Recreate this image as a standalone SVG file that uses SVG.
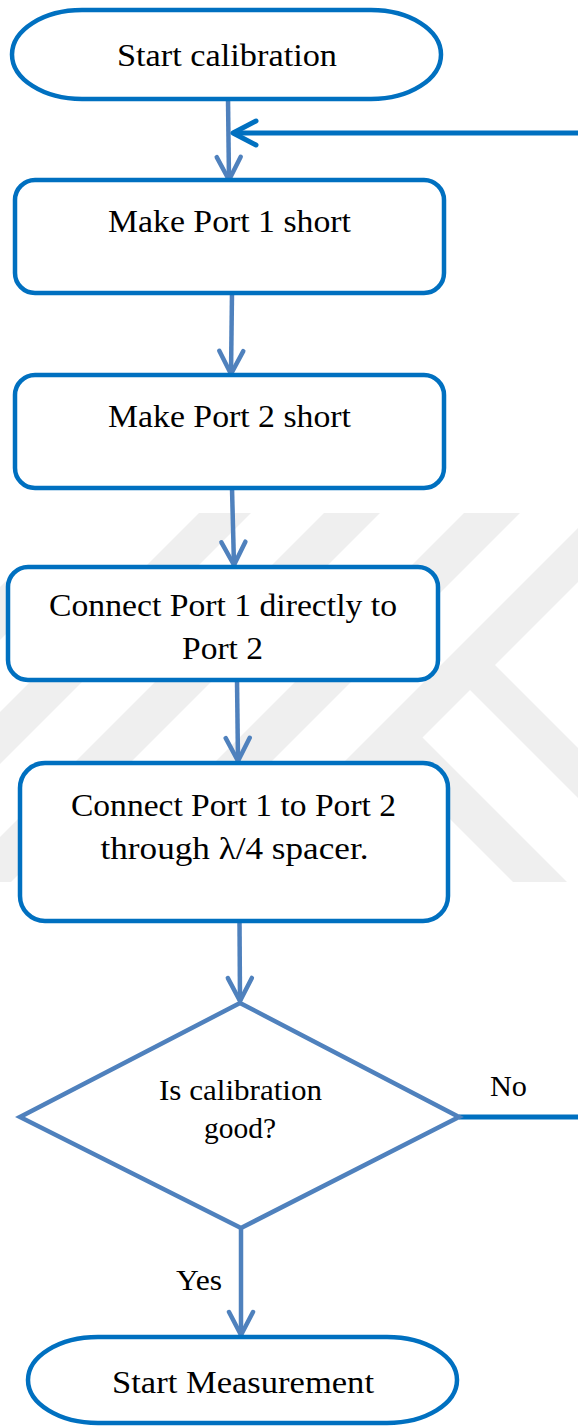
<svg xmlns="http://www.w3.org/2000/svg" width="578" height="1426" viewBox="0 0 578 1426">
  <style>
    .box { fill: #ffffff; stroke: #0070C0; stroke-width: 4.5; }
    .dec { fill: #ffffff; stroke: #4F81BD; stroke-width: 4.5; stroke-linejoin: miter; }
    .lbl { font-family: "Liberation Serif", "Times New Roman", serif; font-size: 32px; fill: #000000; text-anchor: middle; }
    .sm { font-size: 30px; }
    .flow { fill: none; stroke: #4F81BD; stroke-width: 4.5; marker-end: url(#headFlow); }
    .loop { fill: none; stroke: #0070C0; stroke-width: 5; }
    .mark { fill: #EFEFEF; }
  </style>
  <defs>
    <marker id="headFlow" markerUnits="userSpaceOnUse" viewBox="-30 -16 36 32" refX="0" refY="0" markerWidth="36" markerHeight="32" orient="auto" overflow="visible">
      <path d="M-23,-12 L0,0 L-23,12" fill="none" stroke="#4F81BD" stroke-width="4.5" stroke-linecap="round" stroke-linejoin="round"/>
    </marker>
    <marker id="headLoop" markerUnits="userSpaceOnUse" viewBox="-30 -16 36 32" refX="0" refY="0" markerWidth="36" markerHeight="32" orient="auto" overflow="visible">
      <path d="M-23,-12 L0,0 L-23,12" fill="none" stroke="#0070C0" stroke-width="5" stroke-linecap="round" stroke-linejoin="round"/>
    </marker>
  </defs>

  <rect width="578" height="1426" fill="#ffffff"/>

  <!-- faint background emblem: diagonal bars -->
  <g id="emblem">
    <polygon class="mark" points="12,575 65,575 -242,882 -295,882"/>
    <polygon class="mark" points="199,513 251,513 -118,882 -170,882"/>
    <polygon class="mark" points="324,513 380,513 11,882 -45,882"/>
    <polygon class="mark" points="464,513 520,513 151,882 95,882"/>
    <polygon class="mark" points="593,513 647,513 278,882 224,882"/>
    <polygon class="mark" points="485,655 600,770 600,820 460,680"/>
    <polygon class="mark" points="412,727 567,882 513,882 385,754"/>
  </g>

  <!-- connectors -->
  <g id="connectors">
    <path class="flow" d="M228,99 L229,180"/>
    <path class="flow" d="M232,293 L231,374"/>
    <path class="flow" d="M232,488 L234,565"/>
    <path class="flow" d="M237,680 L238,761"/>
    <path class="flow" d="M239.5,921 L240,1001"/>
    <path class="flow" d="M241,1228 L241,1335"/>
    <path class="loop" d="M459,1117 L578,1117"/>
    <path class="loop" d="M578,133 L233,133" marker-end="url(#headLoop)"/>
    <text class="lbl sm" x="508.5" y="1096" textLength="37" lengthAdjust="spacingAndGlyphs">No</text>
    <text class="lbl sm" x="199" y="1290" textLength="46" lengthAdjust="spacingAndGlyphs">Yes</text>
  </g>

  <g id="start-calibration">
    <rect class="box" x="12" y="10" width="429" height="89" rx="70" ry="44.5"/>
    <text class="lbl" x="227" y="66" textLength="220" lengthAdjust="spacingAndGlyphs">Start calibration</text>
  </g>

  <g id="port1-short">
    <rect class="box" x="15" y="180" width="429" height="113" rx="20"/>
    <text class="lbl" x="229.5" y="232" textLength="243" lengthAdjust="spacingAndGlyphs">Make Port 1 short</text>
  </g>

  <g id="port2-short">
    <rect class="box" x="15" y="375" width="429" height="113" rx="20"/>
    <text class="lbl" x="229.5" y="427" textLength="243" lengthAdjust="spacingAndGlyphs">Make Port 2 short</text>
  </g>

  <g id="direct-connect">
    <rect class="box" x="8" y="567" width="430" height="113" rx="20"/>
    <text class="lbl" x="223" y="616" textLength="348" lengthAdjust="spacingAndGlyphs">Connect Port 1 directly to</text>
    <text class="lbl" x="222.5" y="659" textLength="81" lengthAdjust="spacingAndGlyphs">Port 2</text>
  </g>

  <g id="spacer-connect">
    <rect class="box" x="20" y="763" width="428" height="158" rx="25"/>
    <text class="lbl" x="233.5" y="816" textLength="325" lengthAdjust="spacingAndGlyphs">Connect Port 1 to Port 2</text>
    <text class="lbl" x="234.5" y="859" textLength="268" lengthAdjust="spacingAndGlyphs">through λ/4 spacer.</text>
  </g>

  <g id="check-calibration">
    <polygon class="dec" points="240,1003 459,1117 241,1228 20,1117"/>
    <text class="lbl sm" x="240.5" y="1100" textLength="163" lengthAdjust="spacingAndGlyphs">Is calibration</text>
    <text class="lbl sm" x="240" y="1138" textLength="72" lengthAdjust="spacingAndGlyphs">good?</text>
  </g>

  <g id="start-measurement">
    <rect class="box" x="28" y="1337" width="429" height="86" rx="70" ry="43"/>
    <text class="lbl" x="243" y="1393" textLength="262" lengthAdjust="spacingAndGlyphs">Start Measurement</text>
  </g>
</svg>
